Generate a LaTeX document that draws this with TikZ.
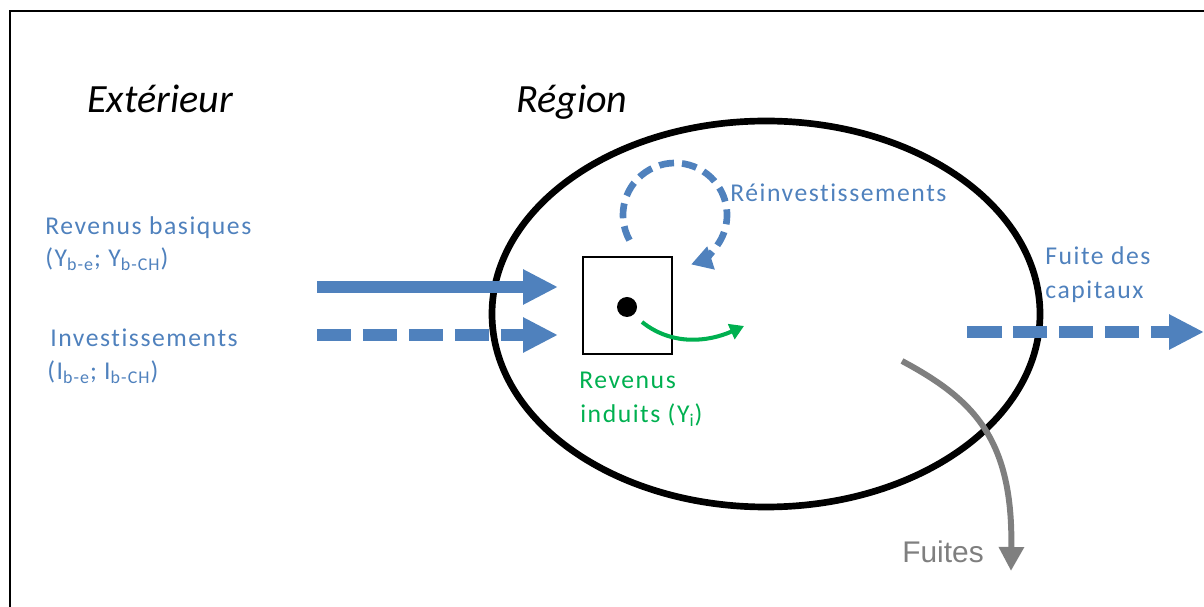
\documentclass[tikz,border=0pt]{standalone}
\usepackage{fontspec}
\setmainfont{Carlito}
\newfontfamily\flowfont[LetterSpace=6,Ligatures=NoCommon]{Carlito}
\newfontfamily\arialfont{Liberation Sans}
\usetikzlibrary{arrows.meta}

\definecolor{flowblue}{HTML}{4F81BD}
\definecolor{flowgreen}{HTML}{00B050}
\definecolor{flowgray}{HTML}{7F7F7F}

\begin{document}
\begin{tikzpicture}[x=0.02cm,y=-0.02cm,>=Triangle]

% ----------------------------
% Styles
% ----------------------------
\tikzset{
	frame/.style={line width=1.1pt},
	region/.style={line width=3.8pt},
	bigflow/.style={draw=flowblue,line width=6.3pt,-{Triangle[length=0.7cm,width=0.66cm]}},
	dashflow/.style={bigflow,dash pattern=on 0.69cm off 0.23cm},
	loopflow/.style={draw=flowblue,line width=3.8pt,dash pattern=on 0.3cm off 0.16cm,-{Triangle[length=0.42cm,width=0.46cm]}},
	induced/.style={draw=flowgreen,line width=2.3pt,-{Triangle[length=0.28cm,width=0.32cm]}},
	leak/.style={draw=flowgray,line width=3.4pt,-{Triangle[length=0.48cm,width=0.48cm]}},
	title/.style={anchor=base west,inner sep=0pt,font=\fontsize{22.8}{27}\selectfont\itshape},
	bluetxt/.style={anchor=base west,inner sep=0pt,text=flowblue,font=\fontsize{14.6}{17}\flowfont},
	greentxt/.style={anchor=base west,inner sep=0pt,text=flowgreen,font=\fontsize{14.6}{17}\flowfont},
	graytxt/.style={anchor=base west,inner sep=0pt,text=flowgray,font=\fontsize{17}{20}\arialfont}
}

\clip (0,0) rectangle (1204,607);

% outer frame (cut on the right and at the bottom)
\draw[frame] (10,11) rectangle (1230,640);

% ============================================================
% Region
% ============================================================
\draw[region] (766,314) ellipse [x radius=274, y radius=193];

\node[title] (extLabel) at (87,113) {Extérieur};
\node[title] (regLabel) at (516,113) {Région};

% firm box with its dot
\node[draw,line width=1.1pt,minimum width=1.78cm,minimum height=1.94cm,inner sep=0pt] (firm) at (627.5,305.5) {};
\fill (627,307) circle (10);

% ============================================================
% Incoming flows
% ============================================================
\coordinate (ybStart) at (317,287);
\coordinate (ybEnd)   at (558,287);
\coordinate (ibStart) at (317,335);
\coordinate (ibEnd)   at (558,335);

\draw[bigflow]  (ybStart) -- (ybEnd);
\draw[dashflow] (ibStart) -- (ibEnd);

\node[bluetxt] (ybLabel)  at (45,235) {Revenus basiques};
\node[bluetxt] (ybVars)   at (45,267) {(Y\textsubscript{b-e}; Y\textsubscript{b-CH})};
\node[bluetxt] (ibLabel)  at (50,347) {Investissements};
\node[bluetxt] (ibVars)   at (47,380) {(I\textsubscript{b-e}; I\textsubscript{b-CH})};

% ============================================================
% Flows inside and out of the region
% ============================================================
% reinvestment loop
\coordinate (loopC) at (675,215);
\draw[loopflow] ([shift={(-209:52)}]loopC) arc[start angle=-209, end angle=72, radius=52];
\node[bluetxt] (reinvLabel) at (730,202) {Réinvestissements};

% induced income
\coordinate (indStart) at (642,322);
\coordinate (indEnd)   at (744,326);
\draw[induced] (indStart) .. controls (672,346) and (708,342) .. (indEnd);
\node[greentxt] (indLabel1) at (579,389) {Revenus};
\node[greentxt] (indLabel2) at (580,423) {induits (Y\textsubscript{i})};

% capital flight
\coordinate (capStart) at (967,332);
\coordinate (capEnd)   at (1204,332);
\draw[dashflow] (capStart) -- (capEnd);
\node[bluetxt] (capLabel1) at (1045,265) {Fuite des};
\node[bluetxt] (capLabel2) at (1045,299) {capitaux};

% leaks
\coordinate (leakStart) at (902,361);
\coordinate (leakEnd)   at (1011,571);
\draw[leak] (leakStart) .. controls (975,400) and (1013,440) .. (leakEnd);
\node[graytxt] (leakLabel) at (902,563) {Fuites};

\end{tikzpicture}
\end{document}
